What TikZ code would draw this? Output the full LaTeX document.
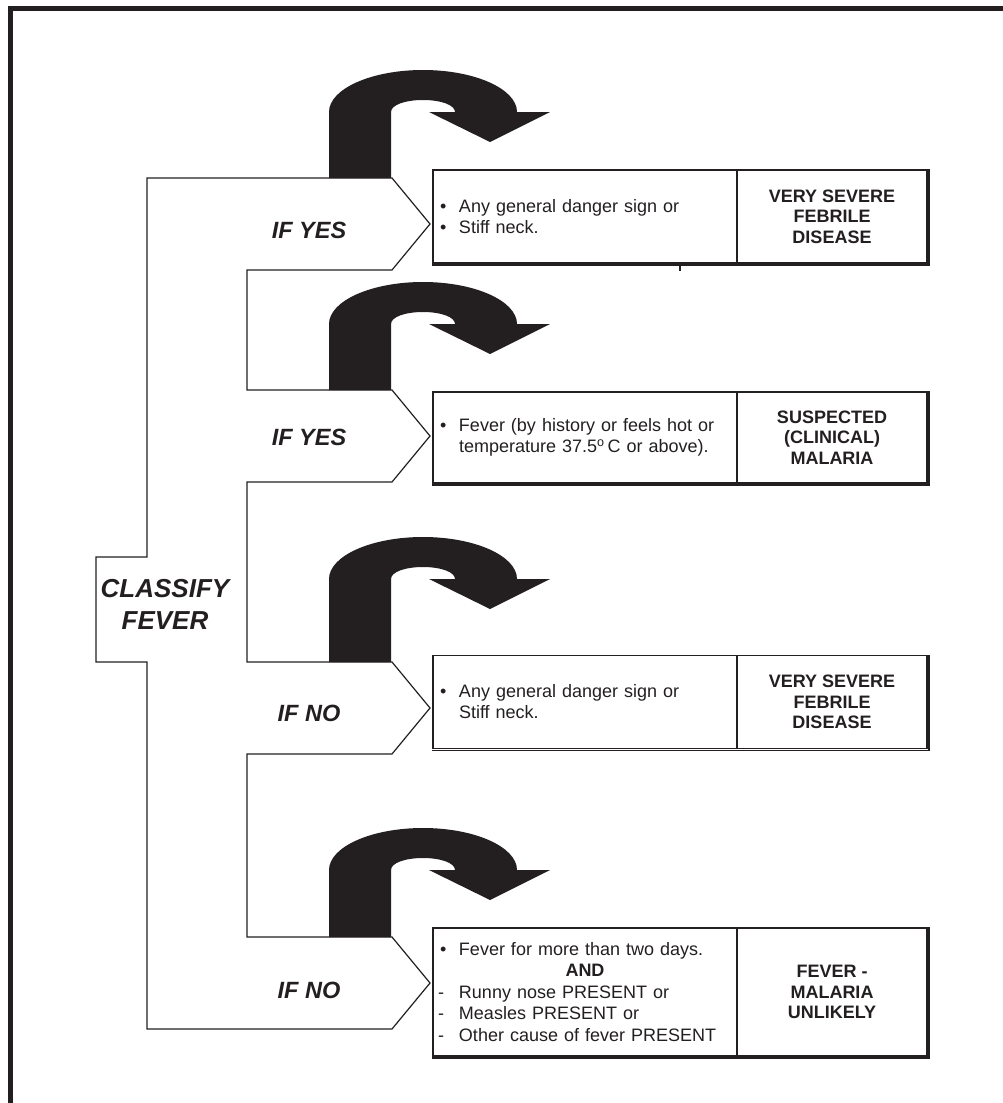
\documentclass[tikz,border=0pt]{standalone}
\usepackage{fontspec}
\setmainfont{Liberation Sans}
\usepackage{tikz}
\definecolor{ink}{RGB}{35,31,32}
\newcommand{\bitem}{\makebox[23pt][l]{\hspace{4pt}\textbullet}}
\newcommand{\ditem}{\makebox[23pt][l]{\hspace{2pt}-}}
\newcommand{\nitem}{\hspace*{23pt}}
% black turning arrow, #1 = level of the arrow head base, #2 = bottom of its stem
\newcommand{\turnarrow}[2]{%
  \fill[ink] (329,#2) -- (329,#1)
    .. controls (329,{#1-23}) and (371,{#1-42}) .. (423,{#1-42})
    .. controls (475,{#1-42}) and (517,{#1-23}) .. (517,#1)
    -- (550,#1) -- (490,{#1+30}) -- (429,#1) -- (455,#1)
    .. controls (455,{#1-7}) and (441,{#1-12}) .. (423,{#1-12})
    .. controls (405,{#1-12}) and (391,{#1-7}) .. (391,#1)
    -- (391,#2) -- cycle;}

\begin{document}
\begin{tikzpicture}[x=1pt,y=-1pt,
    iflabel/.style={text=ink,font=\fontsize{23.5}{26}\selectfont\bfseries\itshape},
    lcell/.style={draw=ink,line width=1.8pt,text=ink,inner xsep=3pt,text width=298pt,align=left,
      font=\fontsize{18}{21}\selectfont},
    rcell/.style={draw=ink,line width=1.8pt,text=ink,minimum width=190pt,align=center,
      font=\fontsize{18}{20.5}\selectfont\bfseries}]
    \useasboundingbox (0,0) rectangle (1003,1103);

    % frame
    \draw[ink,line width=5pt] (10.5,1110) -- (10.5,8.5) -- (1010,8.5);

    % the comb with its four pointed branches
    \draw[ink,line width=1.2pt,line join=miter]
      (147,178) -- (392,178) -- (430,224) -- (392,270) -- (247,270)
      -- (247,390) -- (392,390) -- (430,436) -- (392,482) -- (247,482)
      -- (247,662) -- (392,662) -- (430,708) -- (392,754) -- (247,754)
      -- (247,937) -- (392,937) -- (430,983) -- (392,1029) -- (147,1029)
      -- (147,662) -- (96,662) -- (96,557) -- (147,557) -- cycle;

    \turnarrow{112}{178}
    \turnarrow{324}{390}
    \turnarrow{579}{662}
    \turnarrow{870}{937}

    \node[text=ink,font=\fontsize{26}{32}\selectfont\bfseries\itshape,align=center] (cf) at (165,604) {CLASSIFY\\FEVER};

    \node[iflabel] (if1) at (309,230) {IF YES};
    \node[iflabel] (if2) at (309,437) {IF YES};
    \node[iflabel] (if3) at (309,713) {IF NO};
    \node[iflabel] (if4) at (309,990) {IF NO};

    \node[lcell,minimum height=93pt] (l1) at (585,216.5) {\bitem Any general danger sign or\\\bitem Stiff neck.};
    \node[rcell,minimum height=93pt] (r1) at (832,216.5) {VERY SEVERE\\FEBRILE\\DISEASE};
    \draw[ink,line width=1.2pt] (680,266) -- (680,271);

    \node[lcell,minimum height=91pt] (l2) at (585,437.5) {\bitem Fever (by history or feels hot or\\\nitem temperature 37.5\textsuperscript{o}\,C or above).};
    \node[rcell,minimum height=91pt] (r2) at (832,437.5) {SUSPECTED\\(CLINICAL)\\MALARIA};

    \node[lcell,minimum height=93pt] (l3) at (585,702) {\bitem Any general danger sign or\\\nitem Stiff neck.};
    \node[rcell,minimum height=93pt] (r3) at (832,702) {VERY SEVERE\\FEBRILE\\DISEASE};

    \node[lcell,minimum height=128pt,font=\fontsize{18}{21.5}\selectfont] (l4) at (585,992) {\bitem Fever for more than two days.\\
      \makebox[\linewidth][c]{\bfseries AND}\\
      \ditem Runny nose PRESENT or\\
      \ditem Measles PRESENT or\\
      \ditem Other cause of fever PRESENT};
    \node[rcell,minimum height=128pt] (r4) at (832,992) {FEVER -\\MALARIA\\UNLIKELY};

    % heavier lower and right edges of the boxes
    \foreach \i in {1,...,4}
      \draw[ink,line width=1.4pt] ([yshift=-1pt]l\i.south west) -- ([shift={(1pt,-1pt)}]r\i.south east)
        -- ([xshift=1pt]r\i.north east);
\end{tikzpicture}
\end{document}
